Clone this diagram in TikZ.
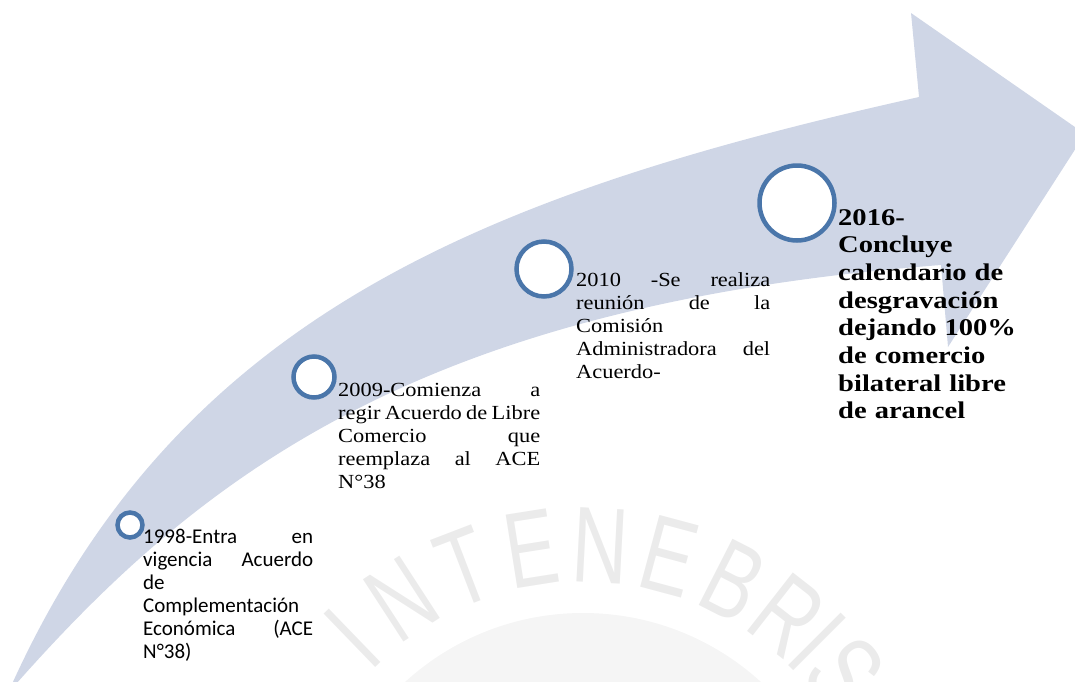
\documentclass[tikz,border=0pt]{standalone}
\usepackage{fontspec}
\usetikzlibrary{calc}
\newfontfamily\calibri{Carlito}
\newfontfamily\cambria{Liberation Serif}[FakeStretch=1.12]
\newfontfamily\cambriab{Liberation Serif}[FakeStretch=1.19]
\newfontfamily\sello{Liberation Sans}[FakeStretch=0.72]
\definecolor{flecha}{RGB}{207,214,230}
\definecolor{anillo}{RGB}{74,118,170}
\tikzset{hito/.style={circle, draw=anillo, line width=4.5pt, fill=white, inner sep=0pt}}
\tikzset{texto/.style={anchor=base west, inner sep=0pt, align=left}}

\begin{document}
\begin{tikzpicture}[x=1pt, y=-1pt]
                    \useasboundingbox (0,0) rectangle (1075,681);
                    \clip (0,0) rectangle (1075,681);
                    % sello de fondo
                    \fill[black!4] (583,877) circle (264);
                    \foreach \ang/\letra in {134/I,123/N,111/T,99/E,87/N,75/E,63/B,52/R,45/I,38/S}
                        \node[text=black!8, inner sep=0pt, font=\sello\fontsize{108}{108}\selectfont, rotate=\ang-90] at ($(583,877)+(-\ang:332)$) {\letra};
                    % flecha curva
                    \fill[flecha] (12,684) .. controls (179,317) and (480,195) .. (919,97) -- (911,13) -- (1085,134) -- (948,347) -- (941,265) .. controls (422,305) and (202,474) .. (16,684) -- cycle;
                    % hitos
                    \node[hito, minimum size=25pt] (c1998) at (130,525) {};
                    \node[hito, minimum size=41pt] (c2009) at (314,377) {};
                    \node[hito, minimum size=55pt] (c2010) at (544,269) {};
                    \node[hito, minimum size=75pt] (c2016) at (797,203) {};
                    \node[texto, text width=170pt, font=\calibri\fontsize{21}{23}\selectfont] (t1998) at (143,543) {1998-Entra\hfill en\\ vigencia\hfill Acuerdo\\ de\\ Complementación\\ Económica\hfill (ACE\\ N°38)};
                    \node[texto, text width=202pt, font=\cambria\fontsize{20}{23}\selectfont] (t2009) at (338,396.5) {2009-Comienza\hfill a\\ regir\hfill Acuerdo\hfill de\hfill Libre\\ Comercio\hfill que\\ reemplaza\hfill al\hfill ACE\\ N°38};
                    \node[texto, text width=194pt, font=\cambria\fontsize{20}{23}\selectfont] (t2010) at (576,286.5) {2010\hfill -Se\hfill realiza\\ reunión\hfill de\hfill la\\ Comisión\\ Administradora\hfill del\\ Acuerdo-};
                    \node[texto, text width=215pt, font=\cambriab\bfseries\fontsize{24}{27.7}\selectfont] (t2016) at (838,225) {2016-\\ Concluye\\ calendario de\\ desgravación\\ dejando 100\%\\ de comercio\\ bilateral libre\\ de arancel};
\end{tikzpicture}
\end{document}
